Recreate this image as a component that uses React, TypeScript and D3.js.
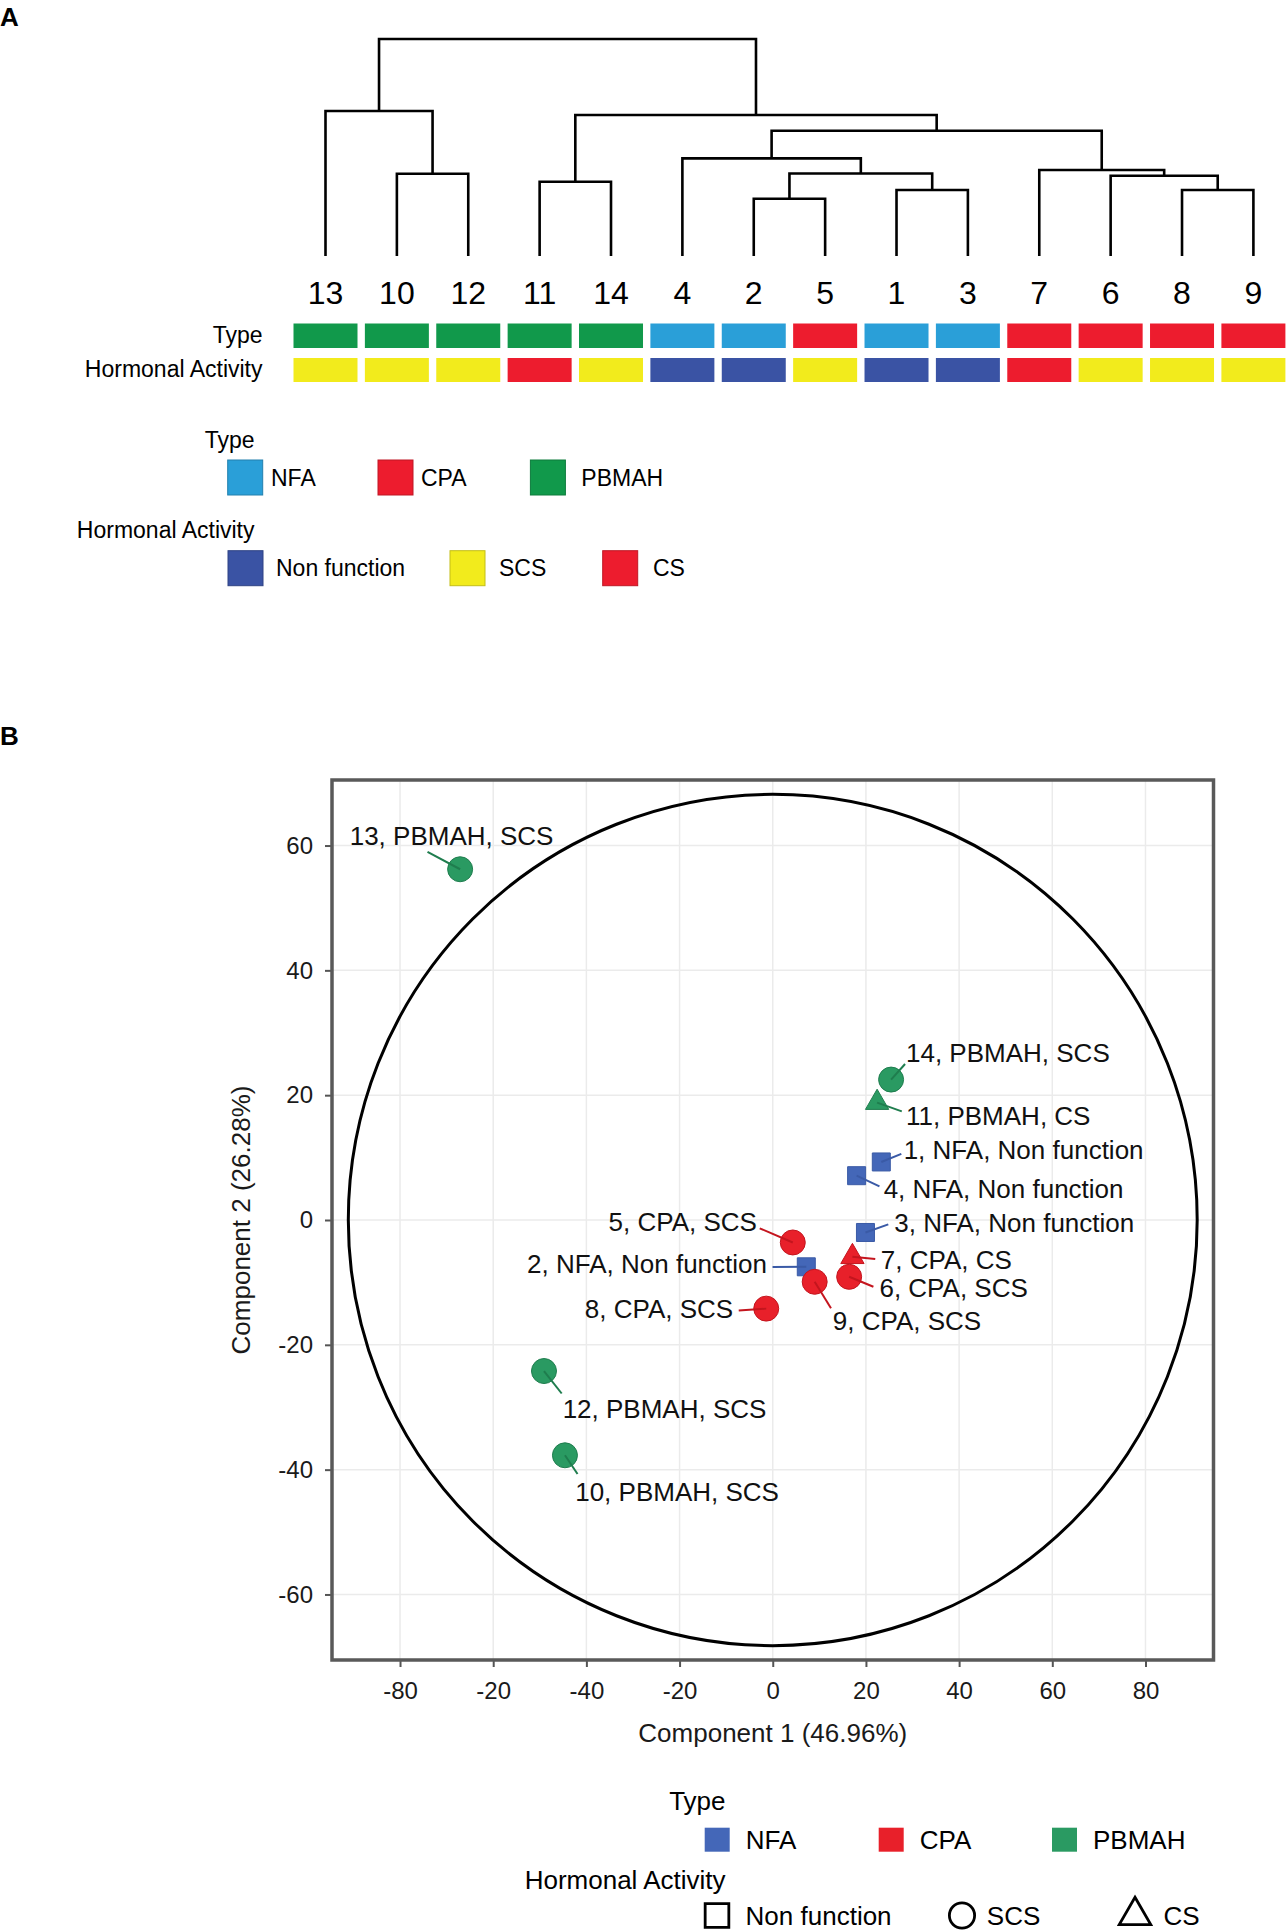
import { useEffect, useRef } from 'react'
import * as d3 from 'd3'

const W = 1287
const H = 1930
const FONT = '"Liberation Sans", Arial, Helvetica, sans-serif'

// samples 1..14
const sampleIds = [1, 2, 3, 4, 5, 6, 7, 8, 9, 10, 11, 12, 13, 14]
const sampleType = ['NFA', 'NFA', 'NFA', 'NFA', 'CPA', 'CPA', 'CPA', 'CPA', 'CPA', 'PBMAH', 'PBMAH', 'PBMAH', 'PBMAH', 'PBMAH']
const sampleActivity = ['Non function', 'Non function', 'Non function', 'Non function', 'SCS', 'SCS', 'CS', 'SCS', 'SCS', 'SCS', 'CS', 'SCS', 'SCS', 'SCS']

// hclust style merges: negative = sample id, positive = earlier merge (1-based)
const merges: [number, number][] = [
  [-2, -5], [-1, -3], [-8, -9], [-11, -14], [-6, 3], [-10, -12], [1, 2],
  [-7, 5], [-4, 7], [9, 8], [4, 10], [-13, 6], [12, 11],
]
const mergeHeights = [26.4, 30.4, 30.4, 34.2, 37.0, 37.9, 38.0, 39.6, 45.0, 57.7, 65.0, 66.8, 100]

// PCA scores
const pc1 = [23.3, 7.2, 19.9, 18.0, 4.3, 16.4, 17.1, -1.4, 9.0, -44.6, 22.4, -49.1, -67.1, 25.4]
const pc2 = [9.3, -7.5, -2.0, 7.1, -3.6, -9.1, -5.9, -14.2, -9.9, -37.7, 18.8, -24.2, 56.2, 22.5]

// repelled label placement (data units): text anchor point and segment end
const labelX = [28.1, -1.24, 26.1, 23.8, -3.4, 22.9, 23.2, -8.5, 12.9, -42.4, 28.6, -45.1, -90.8, 28.6]
const labelY = [9.8, -8.54, -2.0, 3.5, -1.76, -12.3, -7.85, -15.75, -17.6, -45.1, 15.3, -31.8, 60.1, 25.3]
const labelSide = ['start', 'end', 'start', 'start', 'end', 'start', 'start', 'end', 'start', 'start', 'start', 'start', 'start', 'start']
const segEndX = [27.6, -0.04, 24.8, 22.9, -2.8, 21.6, 22.0, -7.3, 12.5, -41.9, 27.7, -45.3, -74.1, 28.4]
const segEndY = [10.6, -7.53, -0.7, 5.4, -1.33, -10.7, -6.25, -14.5, -14.15, -40.7, 17.4, -27.8, 59.0, 25.0]

// confidence ellipse radii (data units)
const ellipseRx = 91.1
const ellipseRy = 68.2

const xTicks = [-80, -60, -40, -20, 0, 20, 40, 60, 80]
const xTickLabels = ['-80', '-20', '-40', '-20', '0', '20', '40', '60', '80']
const yTicks = [-60, -40, -20, 0, 20, 40, 60]

const typeLevels = ['NFA', 'CPA', 'PBMAH']
const activityLevels = ['Non function', 'SCS', 'CS']

const typeColorA = d3.scaleOrdinal<string>().domain(typeLevels).range(['#2a9fd8', '#ed1c2e', '#11994b'])
const activityColorA = d3.scaleOrdinal<string>().domain(activityLevels).range(['#3a53a4', '#f2eb1c', '#ed1c2e'])
const typeColorB = d3.scaleOrdinal<string>().domain(typeLevels).range(['#4467b8', '#e8202a', '#2a9a62'])
const typeStrokeB = d3.scaleOrdinal<string>().domain(typeLevels).range(['#3a5aa6', '#c4151e', '#1f7d4e'])
const activityShape = d3.scaleOrdinal<d3.SymbolType>().domain(activityLevels)
  .range([d3.symbolSquare, d3.symbolCircle, d3.symbolTriangle])
const activitySize = d3.scaleOrdinal<number>().domain(activityLevels).range([324, 490, 235])

type TreeNode = { id: number | null; height: number; children?: TreeNode[] }

export default function App() {
  const svgRef = useRef<SVGSVGElement>(null)

  useEffect(() => {
    if (!svgRef.current) return
    const svg = d3.select(svgRef.current)
    svg.selectAll('*').remove()

    svg.append('rect').attr('width', W).attr('height', H).attr('fill', '#fff')

    // ---------- A: dendrogram ----------
    const built: TreeNode[] = []
    merges.forEach(([a, b], i) => {
      const pick = (k: number): TreeNode => (k < 0 ? { id: -k, height: 0 } : built[k - 1])
      built.push({ id: null, height: mergeHeights[i], children: [pick(a), pick(b)] })
    })
    const root = d3.hierarchy<TreeNode>(built[built.length - 1])
    const order = root.leaves().map(d => String(d.data.id))

    const xLeaf = d3.scalePoint<string>().domain(order).range([325.5, 1253.4])
    const yDend = d3.scaleLinear().domain([0, 100]).range([256, 39])

    const xPos = new Map<d3.HierarchyNode<TreeNode>, number>()
    root.eachAfter(n => {
      xPos.set(n, n.children ? d3.mean(n.children, c => xPos.get(c)!)! : xLeaf(String(n.data.id))!)
    })

    const gA = svg.append('g')
    gA.append('text')
      .attr('x', 0).attr('y', 26)
      .style('font-family', FONT).style('font-weight', 700).style('font-size', '26px')
      .text('A')

    const internal = root.descendants().filter(n => n.children)
    gA.selectAll('path.link')
      .data(internal)
      .enter()
      .append('path')
      .attr('class', 'link')
      .attr('fill', 'none')
      .attr('stroke', '#000')
      .attr('stroke-width', 2.6)
      .attr('d', n => {
        const [c1, c2] = n.children!
        return `M${xPos.get(c1)},${yDend(c1.data.height)}V${yDend(n.data.height)}H${xPos.get(c2)}V${yDend(c2.data.height)}`
      })

    gA.selectAll('text.leaf')
      .data(order)
      .enter()
      .append('text')
      .attr('class', 'leaf')
      .attr('x', d => xLeaf(d)!)
      .attr('y', 303.5)
      .attr('text-anchor', 'middle')
      .style('font-family', FONT).style('font-size', '32px')
      .text(d => d)

    const cellW = 64
    gA.selectAll('rect.type')
      .data(order)
      .enter()
      .append('rect')
      .attr('x', d => xLeaf(d)! - cellW / 2)
      .attr('y', 323.5).attr('width', cellW).attr('height', 24.5)
      .attr('fill', d => typeColorA(sampleType[+d - 1]))
    gA.selectAll('rect.act')
      .data(order)
      .enter()
      .append('rect')
      .attr('x', d => xLeaf(d)! - cellW / 2)
      .attr('y', 358).attr('width', cellW).attr('height', 24)
      .attr('fill', d => activityColorA(sampleActivity[+d - 1]))

    const rowLabel = (y: number, t: string) =>
      gA.append('text').attr('x', 262.5).attr('y', y).attr('text-anchor', 'end')
        .style('font-family', FONT).style('font-size', '23px').text(t)
    rowLabel(342.5, 'Type')
    rowLabel(376.5, 'Hormonal Activity')

    // legend A
    const legA = (title: string, titleY: number, levels: string[], color: (s: string) => string,
      boxX: number[], textX: number[], boxY: number) => {
      gA.append('text').attr('x', 254.5).attr('y', titleY).attr('text-anchor', 'end')
        .style('font-family', FONT).style('font-size', '23px').text(title)
      levels.forEach((lv, i) => {
        gA.append('rect').attr('x', boxX[i]).attr('y', boxY).attr('width', 35).attr('height', 35)
          .attr('fill', color(lv))
          .attr('stroke', d3.color(color(lv))!.darker(0.6).formatHex()).attr('stroke-width', 1)
        gA.append('text').attr('x', textX[i]).attr('y', boxY + 17.5).attr('dy', '0.36em')
          .style('font-family', FONT).style('font-size', '23px').text(lv)
      })
    }
    legA('Type', 448, typeLevels, typeColorA, [227.7, 378, 530.4], [271, 421, 581.3], 460)
    legA('Hormonal Activity', 538, activityLevels, activityColorA, [228, 450, 602.7], [276, 499, 653], 550.7)

    // ---------- B: PCA scatter ----------
    const left = 332, right = 1213.5, top = 780, bottom = 1660
    const x = d3.scaleLinear().domain([-94.6, 94.6]).range([left, right])
    const y = d3.scaleLinear().domain([-70.5, 70.5]).range([bottom, top])

    const gB = svg.append('g')
    gB.append('text')
      .attr('x', 0).attr('y', 745)
      .style('font-family', FONT).style('font-weight', 700).style('font-size', '26px')
      .text('B')

    // grid
    gB.selectAll('line.gx').data(xTicks).enter().append('line')
      .attr('x1', d => x(d)).attr('x2', d => x(d)).attr('y1', top).attr('y2', bottom)
      .attr('stroke', '#ebebeb').attr('stroke-width', 1.5)
    gB.selectAll('line.gy').data(yTicks).enter().append('line')
      .attr('y1', d => y(d)).attr('y2', d => y(d)).attr('x1', left).attr('x2', right)
      .attr('stroke', '#ebebeb').attr('stroke-width', 1.5)

    // ellipse
    gB.append('ellipse')
      .attr('cx', x(0)).attr('cy', y(0))
      .attr('rx', x(ellipseRx) - x(0)).attr('ry', y(0) - y(ellipseRy))
      .attr('fill', 'none').attr('stroke', '#000').attr('stroke-width', 3)

    // axes
    const styleAxis = (g: d3.Selection<SVGGElement, unknown, null, undefined>) => {
      g.select('.domain').remove()
      g.selectAll('.tick line').attr('stroke', '#555').attr('stroke-width', 2)
      g.selectAll('.tick text').attr('fill', '#1a1a1a')
        .style('font-family', FONT).style('font-size', '24px')
    }
    gB.append('g')
      .attr('transform', `translate(0,${bottom})`)
      .call(d3.axisBottom(x).tickValues(xTicks).tickSize(7).tickPadding(15)
        .tickFormat((_, i) => xTickLabels[i]))
      .call(styleAxis)
    gB.append('g')
      .attr('transform', `translate(${left},0)`)
      .call(d3.axisLeft(y).tickValues(yTicks).tickSize(7).tickPadding(12)
        .tickFormat(d => String(d)))
      .call(styleAxis)

    gB.append('text')
      .attr('x', (left + right) / 2).attr('y', 1742)
      .attr('text-anchor', 'middle')
      .style('font-family', FONT).style('font-size', '26px').attr('fill', '#1a1a1a')
      .text('Component 1 (46.96%)')
    gB.append('text')
      .attr('transform', `translate(250,${(top + bottom) / 2}) rotate(-90)`)
      .attr('text-anchor', 'middle')
      .style('font-family', FONT).style('font-size', '26px').attr('fill', '#1a1a1a')
      .text('Component 2 (26.28%)')

    // points
    const idx = sampleIds.map((_, i) => i)
    gB.selectAll('path.pt')
      .data(idx)
      .enter()
      .append('path')
      .attr('class', 'pt')
      .attr('transform', i => `translate(${x(pc1[i])},${y(pc2[i])})`)
      .attr('d', i => d3.symbol().type(activityShape(sampleActivity[i])).size(activitySize(sampleActivity[i]))()!)
      .attr('fill', i => typeColorB(sampleType[i]))
      .attr('stroke', i => typeStrokeB(sampleType[i]))
      .attr('stroke-width', 1)

    // label segments
    gB.selectAll('line.seg')
      .data(idx)
      .enter()
      .append('line')
      .attr('x1', i => x(pc1[i])).attr('y1', i => y(pc2[i]))
      .attr('x2', i => x(segEndX[i])).attr('y2', i => y(segEndY[i]))
      .attr('stroke', i => typeStrokeB(sampleType[i]))
      .attr('stroke-width', 2)

    gB.selectAll('text.lbl')
      .data(idx)
      .enter()
      .append('text')
      .attr('x', i => x(labelX[i])).attr('y', i => y(labelY[i]))
      .attr('text-anchor', i => labelSide[i])
      .style('font-family', FONT).style('font-size', '26px').attr('fill', '#111')
      .text(i => `${sampleIds[i]}, ${sampleType[i]}, ${sampleActivity[i]}`)

    // panel border
    gB.append('rect')
      .attr('x', left).attr('y', top).attr('width', right - left).attr('height', bottom - top)
      .attr('fill', 'none').attr('stroke', '#595959').attr('stroke-width', 3.5)

    // legend B
    const keyX = [704.7, 878.7, 1052]
    gB.append('text').attr('x', 725.5).attr('y', 1809.5).attr('text-anchor', 'end')
      .style('font-family', FONT).style('font-size', '26px').text('Type')
    typeLevels.forEach((lv, i) => {
      gB.append('rect').attr('x', keyX[i]).attr('y', 1827.7).attr('width', 25).attr('height', 24)
        .attr('fill', typeColorB(lv))
      gB.append('text').attr('x', keyX[i] + 41).attr('y', 1839.7).attr('dy', '0.36em')
        .style('font-family', FONT).style('font-size', '26px').text(lv)
    })
    gB.append('text').attr('x', 725.5).attr('y', 1888.5).attr('text-anchor', 'end')
      .style('font-family', FONT).style('font-size', '26px').text('Hormonal Activity')
    const shapeX = [717, 962, 1135]
    activityLevels.forEach((lv, i) => {
      const sz = lv === 'Non function' ? 560 : lv === 'SCS' ? 500 : 430
      gB.append('path')
        .attr('transform', `translate(${shapeX[i]},${1915.5})`)
        .attr('d', d3.symbol().type(activityShape(lv)).size(sz)()!)
        .attr('fill', 'none').attr('stroke', '#000').attr('stroke-width', 2.8)
      gB.append('text').attr('x', [745.6, 986.8, 1163.6][i]).attr('y', 1916).attr('dy', '0.36em')
        .style('font-family', FONT).style('font-size', '26px').text(lv)
    })
  }, [])

  return (
    <div style={{ position: 'absolute', left: 0, top: 0, width: W, height: H, background: '#fff' }}>
      <svg ref={svgRef} width={W} height={H} style={{ display: 'block' }} />
    </div>
  )
}
